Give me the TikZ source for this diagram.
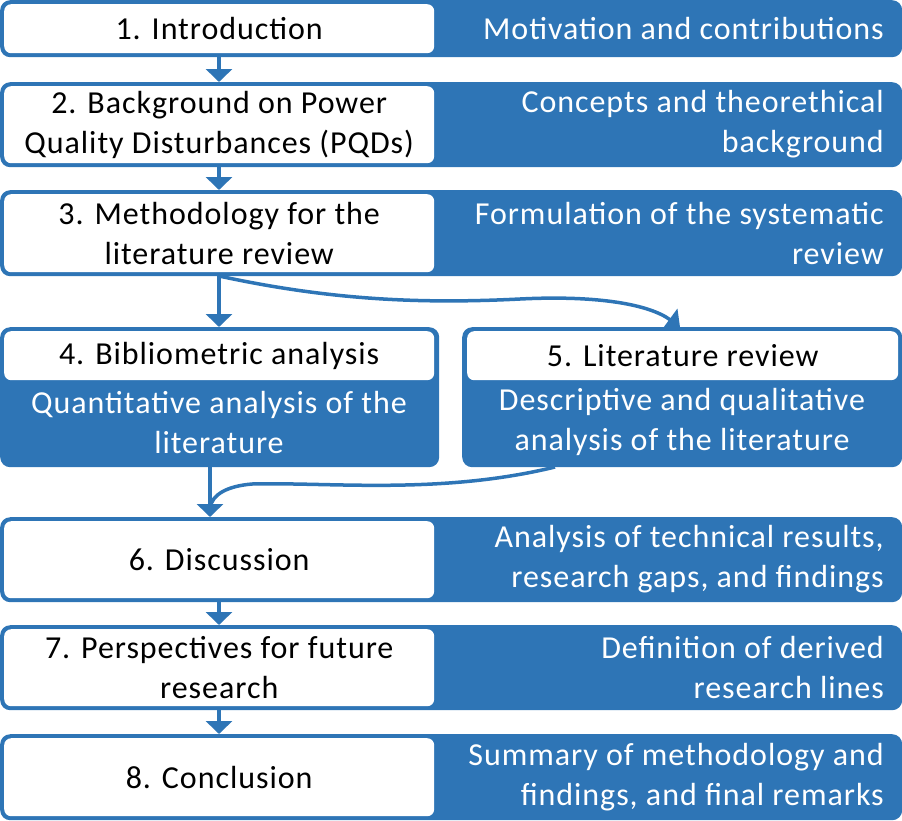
\documentclass[tikz,border=0pt]{standalone}
\usepackage{fontspec}
\setmainfont{Carlito}[LetterSpace=3]
\usetikzlibrary{arrows.meta}
\definecolor{pqblue}{RGB}{46,117,182}
\begin{document}
\begin{tikzpicture}[x=1pt,y=-1pt,
  outerbox/.style={fill=pqblue, rounded corners=10pt, anchor=north west, inner sep=0pt, minimum height=#1},
  whitebox/.style={fill=white, rounded corners=7pt, anchor=north west, inner sep=0pt, align=center,
    font=\fontsize{32}{40}\selectfont, text=black},
  desc/.style={anchor=east, align=right, text=white, inner sep=0pt, font=\fontsize{32}{40}\selectfont},
  cdesc/.style={align=center, text=white, inner sep=0pt, font=\fontsize{32}{40}\selectfont},
  arr/.style={draw=pqblue, line width=4pt, -{Triangle[width=26pt,length=13pt]}},
  curv/.style={draw=pqblue, line width=3.5pt},
]
\useasboundingbox (0,0) rectangle (902,820);

% Row 1
\node[outerbox=57pt, minimum width=902pt] (r1) at (0,0) {};
\node[whitebox, minimum width=430pt, minimum height=49pt] (w1) at (4,4) {1. Introduction};
\node[desc] (d1) at (884,28.5) {Motivation and contributions};

% Row 2
\node[outerbox=85pt, minimum width=902pt] (r2) at (0,82) {};
\node[whitebox, minimum width=430pt, minimum height=77pt] (w2) at (4,86) {2. Background on Power\\Quality Disturbances (PQDs)};
\node[desc] (d2) at (884,124.5) {Concepts and theorethical\\background};

% Row 3
\node[outerbox=86pt, minimum width=902pt] (r3) at (0,190) {};
\node[whitebox, minimum width=430pt, minimum height=78pt] (w3) at (4,194) {3. Methodology for the\\literature review};
\node[desc] (d3) at (884,233) {Formulation of the systematic\\review};

% Row 4 / 5
\node[outerbox=140pt, minimum width=439pt] (r4) at (0,327) {};
\node[whitebox, minimum width=430pt, minimum height=49pt] (w4) at (4,331) {4. Bibliometric analysis};
\node[cdesc] (d4) at (219,422) {Quantitative analysis of the\\literature};

\node[outerbox=140pt, minimum width=440pt] (r5) at (462,327) {};
\node[whitebox, minimum width=431pt, minimum height=49pt] (w5) at (467,331) {5. Literature review};
\node[cdesc] (d5) at (682,422) {Descriptive and qualitative\\analysis of the literature};

% Row 6
\node[outerbox=85pt, minimum width=902pt] (r6) at (0,517) {};
\node[whitebox, minimum width=430pt, minimum height=77pt] (w6) at (4,521) {6. Discussion};
\node[desc] (d6) at (884,559.5) {Analysis of technical results,\\research gaps, and findings};

% Row 7
\node[outerbox=85pt, minimum width=902pt] (r7) at (0,625) {};
\node[whitebox, minimum width=430pt, minimum height=77pt] (w7) at (4,629) {7. Perspectives for future\\research};
\node[desc] (d7) at (884,667.5) {Definition of derived\\research lines};

% Row 8
\node[outerbox=86pt, minimum width=902pt] (r8) at (0,734) {};
\node[whitebox, minimum width=430pt, minimum height=78pt] (w8) at (4,738) {8. Conclusion};
\node[desc] (d8) at (884,777) {Summary of methodology and\\findings, and final remarks};

% Straight arrows
\draw[arr] (219,57) coordinate (a1s) -- (219,82) coordinate (a1e);
\draw[arr] (219,167) coordinate (a2s) -- (219,190) coordinate (a2e);
\draw[arr] (219,276) coordinate (a3s) -- (219,327) coordinate (a3e);
\draw[arr] (210,467) coordinate (a4s) -- (210,517) coordinate (a4e);
\draw[arr] (219,602) coordinate (a6s) -- (219,625) coordinate (a6e);
\draw[arr] (219,710) coordinate (a7s) -- (219,734) coordinate (a7e);

% Curved connectors
\draw[curv, -{Triangle[width=26pt,length=13pt]}] (a3s) .. controls (330,300) and (420,304) .. (520,299)
   .. controls (600,295) and (650,305) .. (680,327);
\draw[curv] (555,467) .. controls (440,495) and (330,482) .. (252,484)
   .. controls (228,486) and (212,494) .. (210,508);
\end{tikzpicture}
\end{document}
